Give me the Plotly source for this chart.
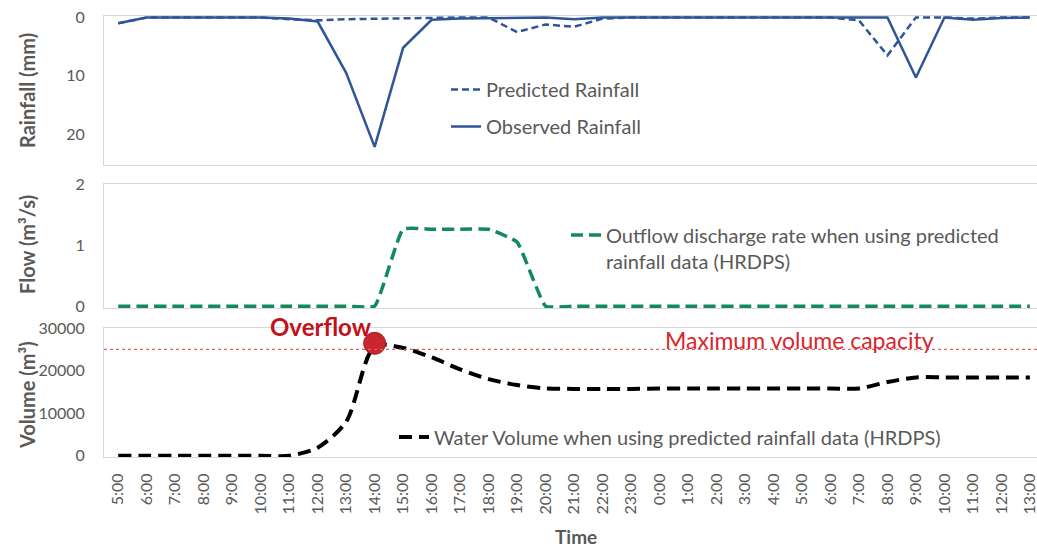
import plotly.graph_objects as go
from plotly.subplots import make_subplots

# ---------------- data ----------------
times = ["5:00", "6:00", "7:00", "8:00", "9:00", "10:00", "11:00", "12:00", "13:00",
         "14:00", "15:00", "16:00", "17:00", "18:00", "19:00", "20:00", "21:00",
         "22:00", "23:00", "0:00", "1:00", "2:00", "3:00", "4:00", "5:00", "6:00",
         "7:00", "8:00", "9:00", "10:00", "11:00", "12:00", "13:00"]

predicted_rainfall = [1.0, 0, 0, 0, 0, 0, 0.3, 0.5, 0.3, 0.2, 0.1, 0, 0, 0, 2.5, 1.2, 1.6,
                      0.2, 0, 0, 0, 0, 0, 0, 0, 0, 0.5, 6.5, 0, 0, 0.2, 0, 0]
observed_rainfall = [1.0, 0, 0, 0, 0, 0, 0.2, 0.7, 9.5, 22.2, 5.2, 0.4, 0.2, 0.1, 0, 0, 0.3,
                     0, 0, 0, 0, 0, 0, 0, 0, 0, 0, 0, 10.3, 0, 0.4, 0.1, 0]
outflow = [0, 0, 0, 0, 0, 0, 0, 0, 0, 0, 1.26, 1.26, 1.26, 1.26, 1.05, 0, 0, 0, 0, 0, 0,
           0, 0, 0, 0, 0, 0, 0, 0, 0, 0, 0, 0]
volume = [0, 0, 0, 0, 0, 0, 0, 1900, 8000, 25700, 25300, 23100, 20300, 18000, 16600,
          15800, 15700, 15700, 15700, 15800, 15800, 15800, 15800, 15800, 15800, 15800,
          15800, 17300, 18400, 18400, 18400, 18400, 18400]
capacity = 25000
overflow_time = "14:00"
overflow_volume = 26400

rain_ticks = [0, 10, 20]
flow_ticks = [0, 1, 2]
volume_ticks = [0, 10000, 20000, 30000]

x = list(range(len(times)))

# ---------------- styling ----------------
W, H = 1037, 550
ML, MR, MT, MB = 104, 0, 16, 93
PW, PH = W - ML - MR, H - MT - MB
FONT = "Lato"
GREY = "#595959"
BORDER = "#D9D9D9"
BLUE = "#2F5597"
GREEN = "#138A5C"


def px_x(p):
    return (p - ML) / PW


def px_y(p):
    return 1 - (p - MT) / PH


fig = make_subplots(rows=3, cols=1, shared_xaxes=False, vertical_spacing=0.02)

fig.add_trace(go.Scatter(x=x, y=predicted_rainfall, mode="lines", name="Predicted Rainfall",
                         line=dict(color=BLUE, width=2.5, dash="7px,4px"),
                         legend="legend", legendgroup="p"), row=1, col=1)
fig.add_trace(go.Scatter(x=x, y=observed_rainfall, mode="lines", name="Observed Rainfall",
                         line=dict(color=BLUE, width=2.5),
                         legend="legend", legendgroup="o"), row=1, col=1)
fig.add_trace(go.Scatter(x=x, y=outflow, mode="lines",
                         name="Outflow discharge rate when using predicted<br>rainfall data (HRDPS)",
                         line=dict(color=GREEN, width=3.5, dash="12px,6px", shape="spline",
                                   smoothing=0.35),
                         legend="legend2"), row=2, col=1)
fig.add_trace(go.Scatter(x=x, y=volume, mode="lines",
                         name="Water Volume when using predicted rainfall data (HRDPS)",
                         line=dict(color="#000000", width=4, dash="13px,7px", shape="spline",
                                   smoothing=0.8),
                         legend="legend3"), row=3, col=1)
fig.add_trace(go.Scatter(x=[times.index(overflow_time)], y=[overflow_volume], mode="markers",
                         marker=dict(size=22, color="#C8282D", line=dict(color="#A31A1F", width=1)),
                         showlegend=False, cliponaxis=False), row=3, col=1)

fig.add_hline(y=capacity, line=dict(color="#E26262", width=1.2, dash="3px,3px"), row=3, col=1)

xcommon = dict(range=[-0.5, 32.25], showgrid=False, zeroline=False, showline=True, mirror=True,
               linecolor=BORDER, linewidth=1, tickvals=x, ticktext=times, ticks="")
fig.update_layout(
    xaxis=dict(**xcommon, showticklabels=False, anchor="y"),
    xaxis2=dict(**xcommon, showticklabels=False, anchor="y2"),
    xaxis3=dict(**xcommon, showticklabels=True, anchor="y3", tickangle=-90,
                tickfont=dict(family=FONT, size=16, color=GREY), ticklabelstandoff=9,
                ticklabeloverflow="allow"),
)
ycommon = dict(showgrid=False, zeroline=False, showline=True, mirror=True, linecolor=BORDER,
               linewidth=1, ticks="", tickfont=dict(family=FONT, size=16, color=GREY),
               ticklabelstandoff=15)
fig.update_layout(
    yaxis=dict(**ycommon, domain=[px_y(165), px_y(16)], range=[25.3, -0.25], tickvals=rain_ticks),
    yaxis2=dict(**ycommon, domain=[px_y(308), px_y(184)], range=[-0.03, 2], tickvals=flow_ticks),
    yaxis3=dict(**ycommon, domain=[px_y(457), px_y(328)], range=[-300, 30000],
                tickvals=volume_ticks, tickformat="d"),
)

legend_common = dict(bgcolor="rgba(0,0,0,0)", borderwidth=0, xanchor="left",
                     font=dict(family=FONT, size=20, color=GREY))
fig.update_layout(
    legend=dict(**legend_common, x=px_x(446), y=px_y(108), yanchor="middle", tracegroupgap=8),
    legend2=dict(**legend_common, x=px_x(566), y=px_y(248), yanchor="middle", valign="top"),
    legend3=dict(**legend_common, x=px_x(394), y=px_y(437), yanchor="middle"),
)

annotations = [
    dict(text="<b>Rainfall (mm)</b>", x=px_x(27), y=px_y(91), textangle=-90, size=20),
    dict(text="<b>Flow (m³/s)</b>", x=px_x(27), y=px_y(245), textangle=-90, size=20),
    dict(text="<b>Volume (m³)</b>", x=px_x(27), y=px_y(395), textangle=-90, size=20),
    dict(text="<b>Time</b>", x=px_x(576), y=px_y(536), textangle=0, size=19),
]
for a in annotations:
    size = a.pop("size")
    fig.add_annotation(**a, xref="paper", yref="paper", xanchor="center", yanchor="middle",
                       showarrow=False, font=dict(family=FONT, size=size, color=GREY))

fig.add_annotation(text="<b>Overflow</b>", x=px_x(321), y=px_y(326), xref="paper", yref="paper",
                   xanchor="center", yanchor="middle", showarrow=False,
                   font=dict(family=FONT, size=24, color="#C0121C"))
fig.add_annotation(text="Maximum volume capacity", x=px_x(799), y=px_y(340), xref="paper",
                   yref="paper", xanchor="center", yanchor="middle", showarrow=False,
                   font=dict(family=FONT, size=23, color="#D8262C"))

fig.update_layout(
    width=W, height=H,
    margin=dict(l=ML, r=MR, t=MT, b=MB),
    paper_bgcolor="white", plot_bgcolor="white",
    font=dict(family=FONT, color=GREY),
)

fig.write_html("out.html")
